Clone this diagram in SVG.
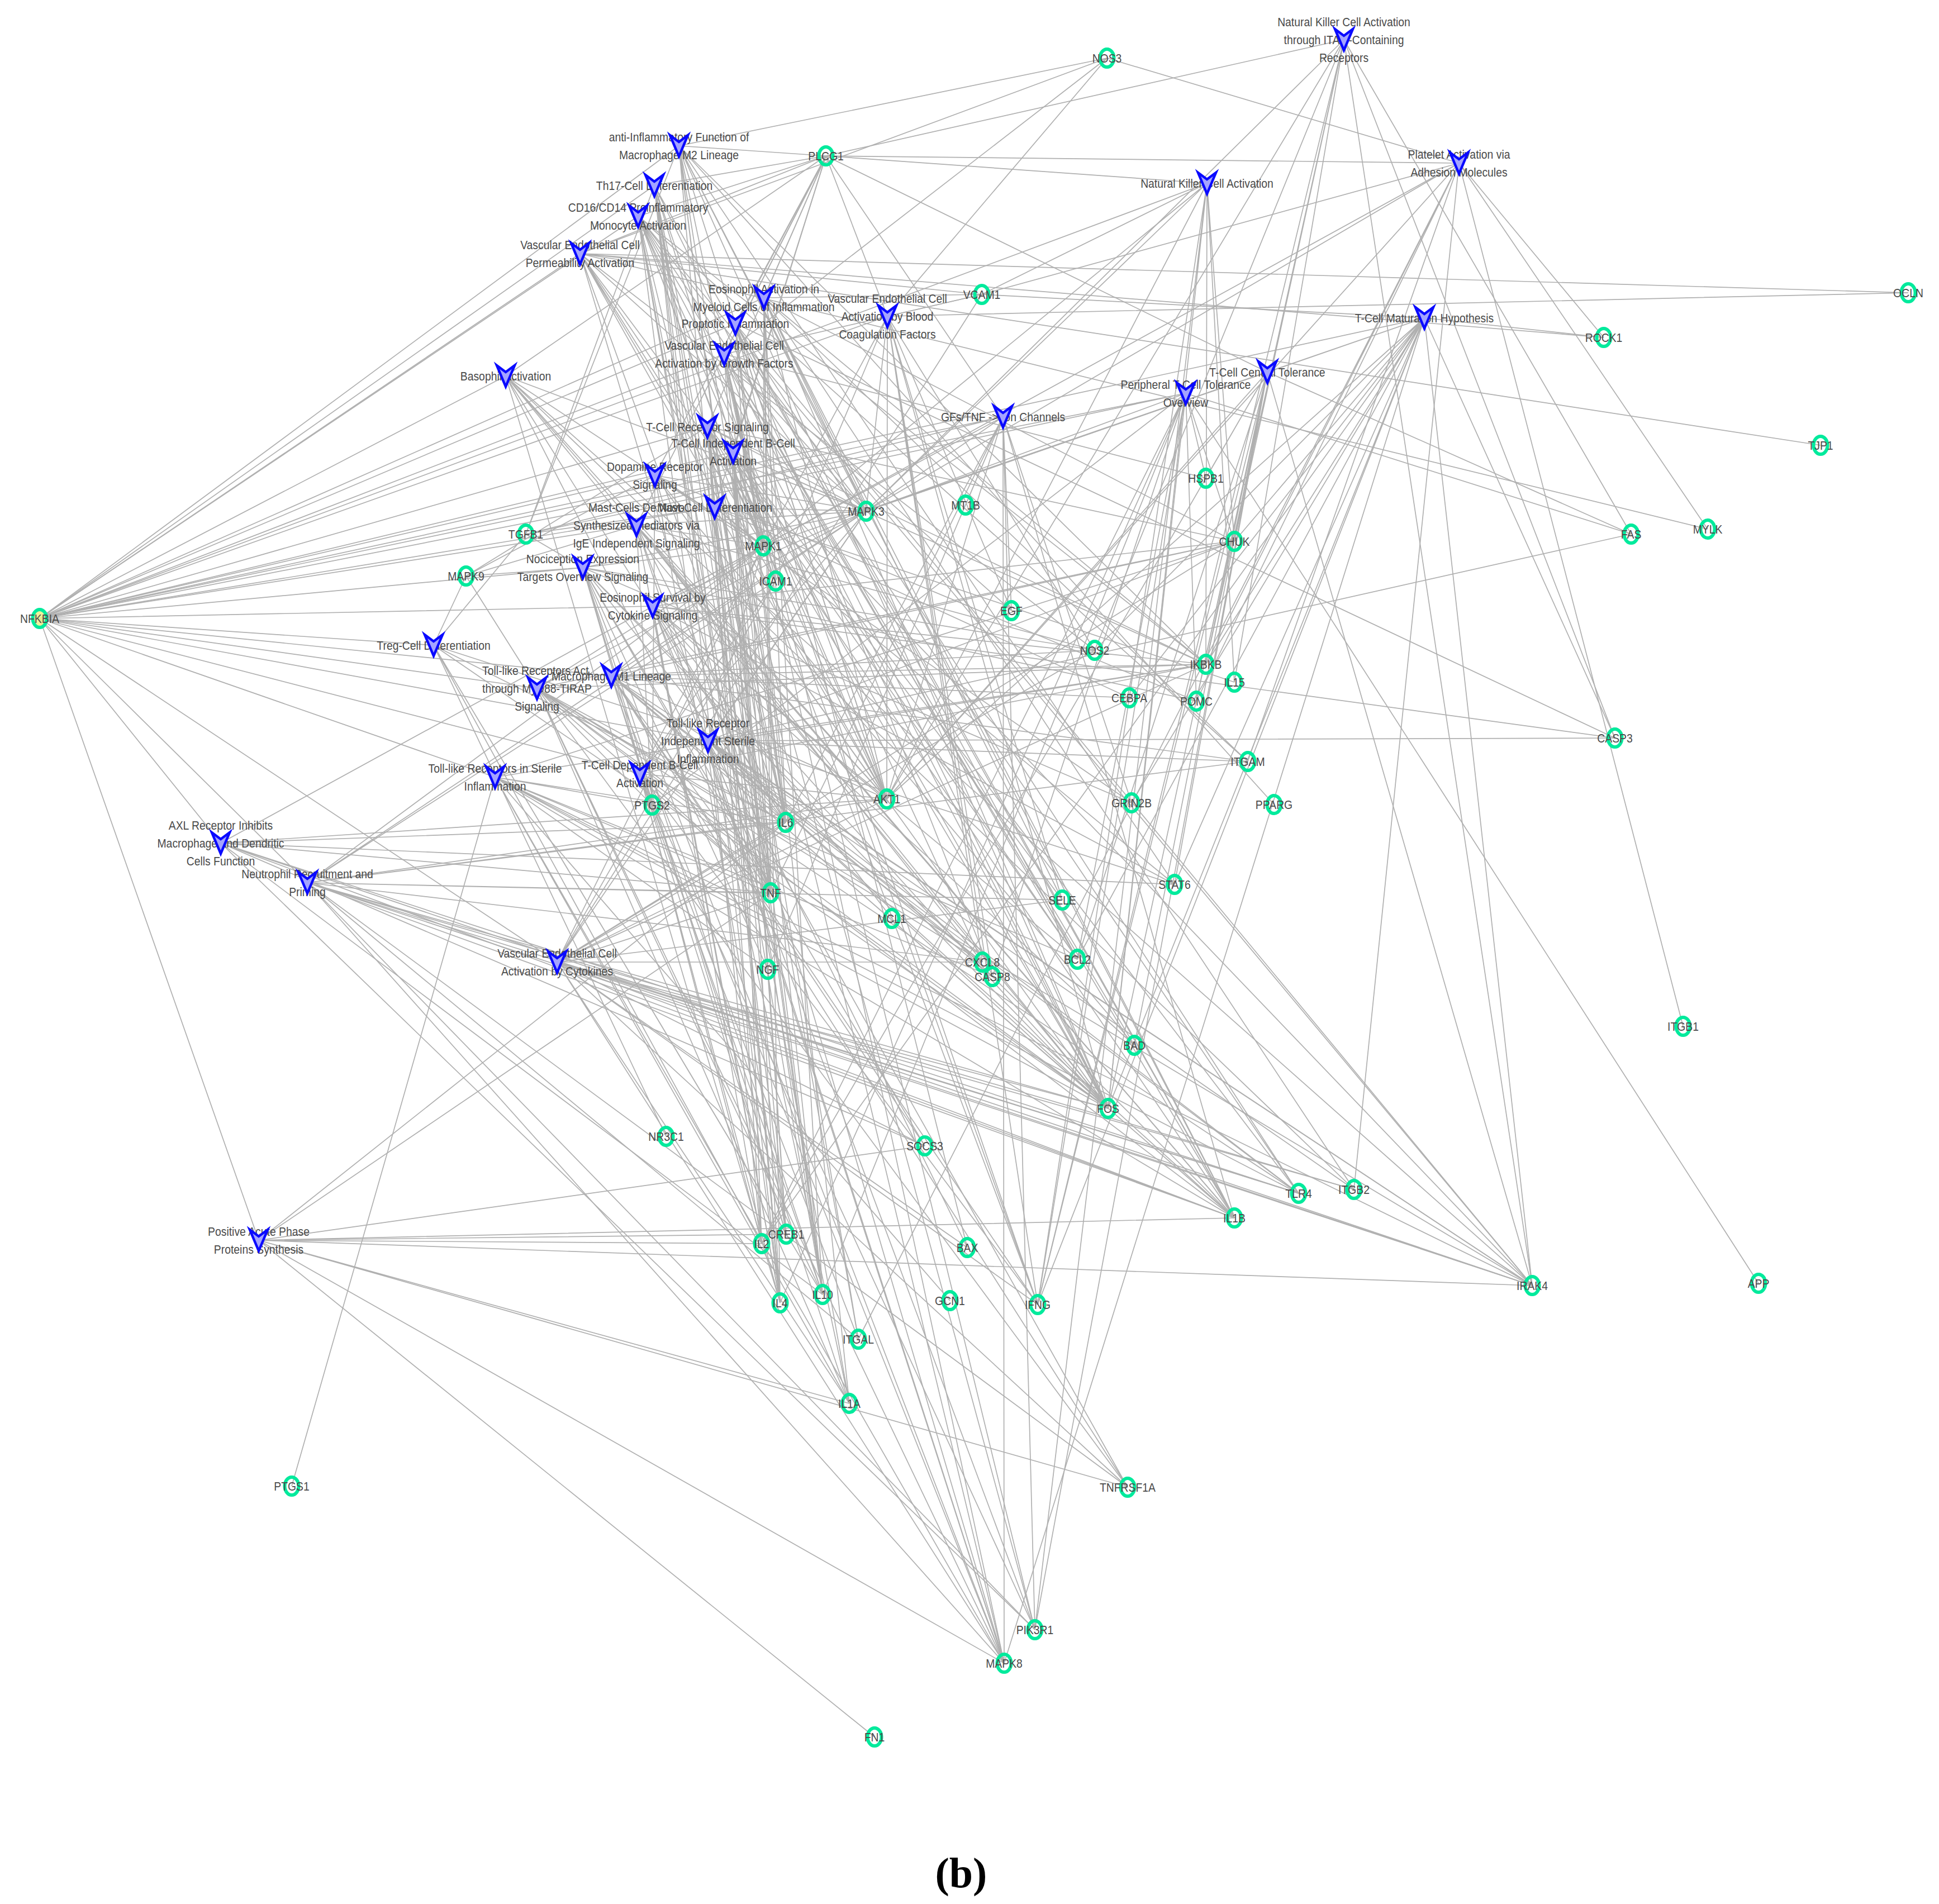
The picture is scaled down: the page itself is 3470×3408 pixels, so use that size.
<svg xmlns="http://www.w3.org/2000/svg" width="3470" height="3408" viewBox="0 0 3470 3408">
<style>
.e{fill:none;stroke:#b0b0b0;stroke-width:1.7}
.ring{fill:none;stroke:#00ea9c;stroke-width:6}
.v{fill:#a4a4ff;stroke:#0a0aff;stroke-width:4.5;stroke-linejoin:miter}
text{font-family:"Liberation Sans",Arial,sans-serif;font-size:22px;fill:#4a4a4a;text-anchor:middle}
.cap{font-family:"Liberation Serif","Times New Roman",serif;font-size:76px;font-weight:bold;fill:#000}
</style>
<rect width="3470" height="3408" fill="#fff"/>
<g id="edges">
<path class="e" d="M2405 71L1478 279M2405 71L2158 1189M2405 71L2209 969M2405 71L2919 956M2405 71L2890 1321M2405 71L1959 1164M2405 71L1550 915M2405 71L1857 2335M2405 71L2742 2301M2405 71L2209 1221M2405 71L1587 1430"/>
<path class="e" d="M1215 261L71 1107M1215 261L1478 279M1215 261L1472 2317M1215 261L1396 2332M1215 261L1406 1472M1215 261L1379 1598M1215 261L1550 915M1215 261L1366 977M1215 261L1587 1430M1215 261L1983 1984M1215 261L2158 1189M1215 261L941 956M1215 261L2102 1583M1215 261L2280 1440M1215 261L2209 2180M1215 261L1981 104"/>
<path class="e" d="M1171 332L71 1107M1171 332L1478 279M1171 332L1406 1472M1171 332L2209 2180M1171 332L941 956M1171 332L1363 2226M1171 332L1396 2332M1171 332L1472 2317M1171 332L1379 1598M1171 332L1857 2335M1171 332L1366 977M1171 332L1407 2209M1171 332L1983 1984M1171 332L1536 2397"/>
<path class="e" d="M1142 387L71 1107M1142 387L1478 279M1142 387L1379 1598M1142 387L1406 1472M1142 387L2209 2180M1142 387L1472 2317M1142 387L1366 977M1142 387L1550 915M1142 387L1587 1430M1142 387L1388 1040M1142 387L2158 1189M1142 387L1983 1984M1142 387L2233 1363M1142 387L2324 2136M1142 387L2742 2301M1142 387L1758 1722M1142 387L1520 2512M1142 387L1396 2332"/>
<path class="e" d="M1038 454L71 1107M1038 454L1981 104M1038 454L3415 524M1038 454L3056 947M1038 454L2870 604M1038 454L3258 797M1038 454L1757 527M1038 454L1388 1040M1038 454L1901 1611M1038 454L1478 279M1038 454L1587 1430M1038 454L1366 977M1038 454L1550 915M1038 454L1379 1598M1038 454L1406 1472M1038 454L2209 2180M1038 454L1959 1164"/>
<path class="e" d="M2160 328L1478 279M2160 328L71 1107M2160 328L1857 2335M2160 328L2158 1189M2160 328L2209 969M2160 328L1550 915M2160 328L1366 977M2160 328L1587 1430M2160 328L1983 1984M2160 328L1852 2917M2160 328L2209 1221M2160 328L2021 1249M2160 328L1757 527"/>
<path class="e" d="M2611 292L1981 104M2611 292L1478 279M2611 292L3012 1837M2611 292L3056 947M2611 292L2870 604M2611 292L2233 1363M2611 292L2423 2129M2611 292L1536 2397M2611 292L1587 1430M2611 292L1366 977M2611 292L1550 915M2611 292L1757 527M2611 292L2158 1189M2611 292L2141 1255"/>
<path class="e" d="M1367 533L71 1107M1367 533L1478 279M1367 533L1757 527M1367 533L1388 1040M1367 533L1396 2332M1367 533L1472 2317M1367 533L1379 1598M1367 533L1406 1472M1367 533L1366 977M1367 533L1550 915M1367 533L1587 1430M1367 533L2233 1363M1367 533L2423 2129M1367 533L1983 1984M1367 533L1901 1611M1367 533L2209 969M1367 533L2158 1189M1367 533L2209 2180"/>
<path class="e" d="M1316 579L71 1107M1316 579L1478 279M1316 579L2209 2180M1316 579L1379 1598M1316 579L1406 1472M1316 579L1776 1748M1316 579L2890 1321M1316 579L2742 2301M1316 579L2324 2136M1316 579L1587 1430M1316 579L1366 977M1316 579L1928 1717M1316 579L1731 2233M1316 579L1520 2512"/>
<path class="e" d="M1588 566L71 1107M1588 566L1757 527M1588 566L1901 1611M1588 566L1388 1040M1588 566L1478 279M1588 566L3415 524M1588 566L1550 915M1588 566L1366 977M1588 566L1587 1430M1588 566L1983 1984M1588 566L1959 1164M1588 566L1810 1093M1588 566L1758 1722M1588 566L1857 2335M1588 566L1776 1748M1588 566L1981 104"/>
<path class="e" d="M1296 634L71 1107M1296 634L1981 104M1296 634L1478 279M1296 634L1757 527M1296 634L1388 1040M1296 634L1587 1430M1296 634L1550 915M1296 634L1366 977M1296 634L1810 1093M1296 634L1852 2917M1296 634L1983 1984M1296 634L1407 2209M1296 634L1406 1472M1296 634L1928 1717M1296 634L2030 1871M1296 634L1797 2977M1296 634L2158 856"/>
<path class="e" d="M905 673L71 1107M905 673L1478 279M905 673L1396 2332M905 673L1406 1472M905 673L1379 1598M905 673L1366 977M905 673L1550 915M905 673L1587 1430M905 673L1983 1984M905 673L2209 2180M905 673L2742 2301M905 673L2423 2129"/>
<path class="e" d="M2549 569L71 1107M2549 569L2742 2301M2549 569L2890 1321M2549 569L1797 2977M2549 569L1363 2226M2549 569L1857 2335M2549 569L1983 1984M2549 569L1587 1430M2549 569L2870 604M2549 569L2209 969M2549 569L2158 1189M2549 569L1959 1164M2549 569L2021 1249M2549 569L2025 1437M2549 569L2102 1583M2549 569L1928 1717M2549 569L1366 977M2549 569L1550 915M2549 569L1757 527"/>
<path class="e" d="M2268 666L1852 2917M2268 666L2919 956M2268 666L2158 1189M2268 666L2209 969M2268 666L1363 2226M2268 666L1857 2335M2268 666L1983 1984M2268 666L1587 1430M2268 666L2742 2301M2268 666L1928 1717M2268 666L2030 1871M2268 666L2102 1583M2268 666L2141 1255M2268 666L1550 915M2268 666L1478 279M2268 666L2158 856"/>
<path class="e" d="M2122 704L2919 956M2122 704L1363 2226M2122 704L1472 2317M2122 704L941 956M2122 704L1857 2335M2122 704L1396 2332M2122 704L3147 2297M2122 704L1983 1984M2122 704L1776 1748M2122 704L1928 1717M2122 704L2158 856M2122 704L2209 969M2122 704L71 1107M2122 704L1550 915M2122 704L2141 1255M2122 704L1167 1441"/>
<path class="e" d="M1795 746L71 1107M1795 746L1379 1598M1795 746L1374 1735M1795 746L1810 1093M1795 746L1550 915M1795 746L1366 977M1795 746L1587 1430M1795 746L1478 279M1795 746L2025 1437M1795 746L1852 2917M1795 746L2209 2180M1795 746L941 956M1795 746L1797 2977M1795 746L1406 1472M1795 746L1728 904"/>
<path class="e" d="M1266 764L71 1107M1266 764L1478 279M1266 764L1363 2226M1266 764L1396 2332M1266 764L1472 2317M1266 764L1857 2335M1266 764L1983 1984M1266 764L1407 2209M1266 764L1366 977M1266 764L1550 915M1266 764L1587 1430M1266 764L2158 1189M1266 764L2209 969M1266 764L1852 2917M1266 764L1797 2977M1266 764L834 1031M1266 764L1928 1717M1266 764L1536 2397"/>
<path class="e" d="M1312 809L71 1107M1312 809L1478 279M1312 809L1363 2226M1312 809L1396 2332M1312 809L1472 2317M1312 809L1857 2335M1312 809L1379 1598M1312 809L1406 1472M1312 809L1983 1984M1312 809L1407 2209M1312 809L1366 977M1312 809L1550 915M1312 809L1587 1430M1312 809L2158 1189M1312 809L2742 2301M1312 809L2324 2136M1312 809L1928 1717"/>
<path class="e" d="M1172 851L71 1107M1172 851L1478 279M1172 851L1407 2209M1172 851L1983 1984M1172 851L1366 977M1172 851L1550 915M1172 851L1587 1430M1172 851L2025 1437M1172 851L2141 1255M1172 851L1797 2977M1172 851L834 1031M1172 851L1167 1441M1172 851L2030 1871"/>
<path class="e" d="M1279 908L71 1107M1279 908L1396 2332M1279 908L1406 1472M1279 908L1472 2317M1279 908L1366 977M1279 908L1550 915M1279 908L1587 1430M1279 908L2021 1249M1279 908L2102 1583M1279 908L1478 279M1279 908L2209 1221M1279 908L941 956"/>
<path class="e" d="M1139 940L71 1107M1139 940L1478 279M1139 940L1167 1441M1139 940L1406 1472M1139 940L1379 1598M1139 940L1396 2332M1139 940L1758 1722M1139 940L1366 977M1139 940L1550 915M1139 940L1797 2977M1139 940L834 1031M1139 940L1587 1430M1139 940L1983 1984M1139 940L1959 1164M1139 940L2209 2180"/>
<path class="e" d="M1043 1016L71 1107M1043 1016L941 956M1043 1016L1406 1472M1043 1016L1379 1598M1043 1016L2209 2180M1043 1016L1374 1735M1043 1016L1983 1984M1043 1016L1407 2209M1043 1016L1366 977M1043 1016L1550 915M1043 1016L1797 2977M1043 1016L834 1031M1043 1016L1167 1441M1043 1016L2141 1255M1043 1016L2025 1437M1043 1016L1472 2317M1043 1016L1959 1164M1043 1016L1655 2051"/>
<path class="e" d="M1168 1085L71 1107M1168 1085L1396 2332M1168 1085L1363 2226M1168 1085L1406 1472M1168 1085L1379 1598M1168 1085L1366 977M1168 1085L1550 915M1168 1085L1587 1430M1168 1085L1928 1717M1168 1085L1731 2233M1168 1085L2030 1871M1168 1085L1596 1644M1168 1085L2102 1583M1168 1085L1983 1984M1168 1085L1852 2917M1168 1085L2890 1321M1168 1085L2158 1189M1168 1085L2209 969"/>
<path class="e" d="M776 1155L71 1107M776 1155L941 956M776 1155L1363 2226M776 1155L1472 2317M776 1155L1983 1984M776 1155L834 1031M776 1155L1406 1472M776 1155L2102 1583M776 1155L1407 2209M776 1155L1192 2034"/>
<path class="e" d="M961 1232L71 1107M961 1232L2742 2301M961 1232L2324 2136M961 1232L2209 2180M961 1232L1379 1598M961 1232L1406 1472M961 1232L1797 2977M961 1232L1366 977M961 1232L1550 915M961 1232L2158 1189M961 1232L2209 969M961 1232L1983 1984M961 1232L1758 1722M961 1232L1167 1441M961 1232L1520 2512M961 1232L1472 2317M961 1232L834 1031M961 1232L2018 2662"/>
<path class="e" d="M1094 1210L71 1107M1094 1210L1379 1598M1094 1210L1406 1472M1094 1210L2209 2180M1094 1210L1857 2335M1094 1210L1959 1164M1094 1210L2324 2136M1094 1210L2742 2301M1094 1210L1167 1441M1094 1210L1758 1722M1094 1210L1366 977M1094 1210L1550 915M1094 1210L1797 2977M1094 1210L1983 1984M1094 1210L2158 1189M1094 1210L2209 969M1094 1210L1520 2512M1094 1210L2233 1363M1094 1210L2021 1249M1094 1210L2018 2662M1094 1210L1587 1430M1094 1210L1655 2051"/>
<path class="e" d="M1267 1326L71 1107M1267 1326L2324 2136M1267 1326L2742 2301M1267 1326L2209 2180M1267 1326L1379 1598M1267 1326L1406 1472M1267 1326L1520 2512M1267 1326L1758 1722M1267 1326L1366 977M1267 1326L1550 915M1267 1326L1797 2977M1267 1326L1983 1984M1267 1326L2158 1189M1267 1326L2209 969M1267 1326L1776 1748M1267 1326L2890 1321M1267 1326L2423 2129M1267 1326L2233 1363M1267 1326L2919 956M1267 1326L2018 2662"/>
<path class="e" d="M1145 1385L71 1107M1145 1385L1363 2226M1145 1385L1396 2332M1145 1385L1472 2317M1145 1385L1857 2335M1145 1385L1366 977M1145 1385L1550 915M1145 1385L1587 1430M1145 1385L1983 1984M1145 1385L1407 2209M1145 1385L2158 1189M1145 1385L1928 1717M1145 1385L1852 2917M1145 1385L1536 2397M1145 1385L1388 1040M1145 1385L1379 1598"/>
<path class="e" d="M886 1391L71 1107M886 1391L2324 2136M886 1391L2742 2301M886 1391L2209 2180M886 1391L1379 1598M886 1391L1406 1472M886 1391L1520 2512M886 1391L1797 2977M886 1391L1983 1984M886 1391L2158 1189M886 1391L2209 969M886 1391L1776 1748M886 1391L1374 1735M886 1391L522 2660M886 1391L1167 1441M886 1391L1700 2328"/>
<path class="e" d="M395 1509L71 1107M395 1509L1655 2051M395 1509L2324 2136M395 1509L2742 2301M395 1509L1406 1472M395 1509L1379 1598M395 1509L1472 2317M395 1509L1587 1430M395 1509L1366 977M395 1509L1852 2917M395 1509L2209 2180M395 1509L2102 1583"/>
<path class="e" d="M550 1580L71 1107M550 1580L2324 2136M550 1580L2423 2129M550 1580L2233 1363M550 1580L1536 2397M550 1580L2209 2180M550 1580L1983 1984M550 1580L2742 2301M550 1580L1379 1598M550 1580L1758 1722M550 1580L1797 2977M550 1580L1366 977M550 1580L1550 915M550 1580L1587 1430M550 1580L1406 1472M550 1580L1901 1611M550 1580L1388 1040M550 1580L2018 2662M550 1580L1852 2917"/>
<path class="e" d="M997 1722L71 1107M997 1722L1757 527M997 1722L1388 1040M997 1722L1901 1611M997 1722L1379 1598M997 1722L2209 2180M997 1722L1406 1472M997 1722L2324 2136M997 1722L2742 2301M997 1722L2423 2129M997 1722L1983 1984M997 1722L2158 1189M997 1722L2209 969M997 1722L1797 2977M997 1722L1366 977M997 1722L1550 915M997 1722L1587 1430M997 1722L1959 1164M997 1722L1520 2512M997 1722L2018 2662M997 1722L1758 1722M997 1722L1857 2335M997 1722L1655 2051M997 1722L1731 2233"/>
<path class="e" d="M463 2220L71 1107M463 2220L1406 1472M463 2220L2209 2180M463 2220L1520 2512M463 2220L1379 1598M463 2220L2742 2301M463 2220L1407 2209M463 2220L1363 2226M463 2220L1797 2977M463 2220L1565 3109M463 2220L1655 2051M463 2220L2018 2662"/>
</g>
<g id="genes">
<g id="g-NFKBIA" transform="translate(71 1107)"><ellipse class="ring" rx="12.5" ry="16" style="fill:#eef08a;fill-opacity:0.85"/><text y="8" transform="scale(0.88 1)">NFKBIA</text></g>
<g id="g-NOS3" transform="translate(1981 104)"><ellipse class="ring" rx="12.5" ry="16"/><text y="8" transform="scale(0.88 1)">NOS3</text></g>
<g id="g-PLCG1" transform="translate(1478 279)"><ellipse class="ring" rx="12.5" ry="16"/><text y="8" transform="scale(0.88 1)">PLCG1</text></g>
<g id="g-VCAM1" transform="translate(1757 527)"><ellipse class="ring" rx="12.5" ry="16"/><text y="8" transform="scale(0.88 1)">VCAM1</text></g>
<g id="g-OCLN" transform="translate(3415 524)"><ellipse class="ring" rx="12.5" ry="16"/><text y="8" transform="scale(0.88 1)">OCLN</text></g>
<g id="g-ROCK1" transform="translate(2870 604)"><ellipse class="ring" rx="12.5" ry="16"/><text y="8" transform="scale(0.88 1)">ROCK1</text></g>
<g id="g-TJP1" transform="translate(3258 797)"><ellipse class="ring" rx="12.5" ry="16"/><text y="8" transform="scale(0.88 1)">TJP1</text></g>
<g id="g-HSPB1" transform="translate(2158 856)"><ellipse class="ring" rx="12.5" ry="16"/><text y="8" transform="scale(0.88 1)">HSPB1</text></g>
<g id="g-MYLK" transform="translate(3056 947)"><ellipse class="ring" rx="12.5" ry="16"/><text y="8" transform="scale(0.88 1)">MYLK</text></g>
<g id="g-FAS" transform="translate(2919 956)"><ellipse class="ring" rx="12.5" ry="16"/><text y="8" transform="scale(0.88 1)">FAS</text></g>
<g id="g-MAPK3" transform="translate(1550 915)"><ellipse class="ring" rx="12.5" ry="16"/><text y="8" transform="scale(0.88 1)">MAPK3</text></g>
<g id="g-MT1B" transform="translate(1728 904)"><ellipse class="ring" rx="12.5" ry="16"/><text y="8" transform="scale(0.88 1)">MT1B</text></g>
<g id="g-CHUK" transform="translate(2209 969)"><ellipse class="ring" rx="12.5" ry="16"/><text y="8" transform="scale(0.88 1)">CHUK</text></g>
<g id="g-TGFB1" transform="translate(941 956)"><ellipse class="ring" rx="12.5" ry="16"/><text y="8" transform="scale(0.88 1)">TGFB1</text></g>
<g id="g-MAPK1" transform="translate(1366 977)"><ellipse class="ring" rx="12.5" ry="16"/><text y="8" transform="scale(0.88 1)">MAPK1</text></g>
<g id="g-MAPK9" transform="translate(834 1031)"><ellipse class="ring" rx="12.5" ry="16"/><text y="8" transform="scale(0.88 1)">MAPK9</text></g>
<g id="g-ICAM1" transform="translate(1388 1040)"><ellipse class="ring" rx="12.5" ry="16"/><text y="8" transform="scale(0.88 1)">ICAM1</text></g>
<g id="g-EGF" transform="translate(1810 1093)"><ellipse class="ring" rx="12.5" ry="16"/><text y="8" transform="scale(0.88 1)">EGF</text></g>
<g id="g-NOS2" transform="translate(1959 1164)"><ellipse class="ring" rx="12.5" ry="16"/><text y="8" transform="scale(0.88 1)">NOS2</text></g>
<g id="g-IKBKB" transform="translate(2158 1189)"><ellipse class="ring" rx="12.5" ry="16"/><text y="8" transform="scale(0.88 1)">IKBKB</text></g>
<g id="g-IL15" transform="translate(2209 1221)"><ellipse class="ring" rx="12.5" ry="16"/><text y="8" transform="scale(0.88 1)">IL15</text></g>
<g id="g-CEBPA" transform="translate(2021 1249)"><ellipse class="ring" rx="12.5" ry="16"/><text y="8" transform="scale(0.88 1)">CEBPA</text></g>
<g id="g-POMC" transform="translate(2141 1255)"><ellipse class="ring" rx="12.5" ry="16"/><text y="8" transform="scale(0.88 1)">POMC</text></g>
<g id="g-CASP3" transform="translate(2890 1321)"><ellipse class="ring" rx="12.5" ry="16"/><text y="8" transform="scale(0.88 1)">CASP3</text></g>
<g id="g-ITGAM" transform="translate(2233 1363)"><ellipse class="ring" rx="12.5" ry="16"/><text y="8" transform="scale(0.88 1)">ITGAM</text></g>
<g id="g-AKT1" transform="translate(1587 1430)"><ellipse class="ring" rx="12.5" ry="16"/><text y="8" transform="scale(0.88 1)">AKT1</text></g>
<g id="g-GRIN2B" transform="translate(2025 1437)"><ellipse class="ring" rx="12.5" ry="16"/><text y="8" transform="scale(0.88 1)">GRIN2B</text></g>
<g id="g-PPARG" transform="translate(2280 1440)"><ellipse class="ring" rx="12.5" ry="16"/><text y="8" transform="scale(0.88 1)">PPARG</text></g>
<g id="g-PTGS2" transform="translate(1167 1441)"><ellipse class="ring" rx="12.5" ry="16"/><text y="8" transform="scale(0.88 1)">PTGS2</text></g>
<g id="g-IL6" transform="translate(1406 1472)"><ellipse class="ring" rx="12.5" ry="16"/><text y="8" transform="scale(0.88 1)">IL6</text></g>
<g id="g-STAT6" transform="translate(2102 1583)"><ellipse class="ring" rx="12.5" ry="16"/><text y="8" transform="scale(0.88 1)">STAT6</text></g>
<g id="g-TNF" transform="translate(1379 1598)"><ellipse class="ring" rx="12.5" ry="16"/><text y="8" transform="scale(0.88 1)">TNF</text></g>
<g id="g-SELE" transform="translate(1901 1611)"><ellipse class="ring" rx="12.5" ry="16"/><text y="8" transform="scale(0.88 1)">SELE</text></g>
<g id="g-MCL1" transform="translate(1596 1644)"><ellipse class="ring" rx="12.5" ry="16"/><text y="8" transform="scale(0.88 1)">MCL1</text></g>
<g id="g-CXCL8" transform="translate(1758 1722)"><ellipse class="ring" rx="12.5" ry="16"/><text y="8" transform="scale(0.88 1)">CXCL8</text></g>
<g id="g-CASP8" transform="translate(1776 1748)"><ellipse class="ring" rx="12.5" ry="16"/><text y="8" transform="scale(0.88 1)">CASP8</text></g>
<g id="g-BCL2" transform="translate(1928 1717)"><ellipse class="ring" rx="12.5" ry="16"/><text y="8" transform="scale(0.88 1)">BCL2</text></g>
<g id="g-NGF" transform="translate(1374 1735)"><ellipse class="ring" rx="12.5" ry="16"/><text y="8" transform="scale(0.88 1)">NGF</text></g>
<g id="g-BAD" transform="translate(2030 1871)"><ellipse class="ring" rx="12.5" ry="16"/><text y="8" transform="scale(0.88 1)">BAD</text></g>
<g id="g-ITGB1" transform="translate(3012 1837)"><ellipse class="ring" rx="12.5" ry="16"/><text y="8" transform="scale(0.88 1)">ITGB1</text></g>
<g id="g-FOS" transform="translate(1983 1984)"><ellipse class="ring" rx="12.5" ry="16"/><text y="8" transform="scale(0.88 1)">FOS</text></g>
<g id="g-NR3C1" transform="translate(1192 2034)"><ellipse class="ring" rx="12.5" ry="16"/><text y="8" transform="scale(0.88 1)">NR3C1</text></g>
<g id="g-SOCS3" transform="translate(1655 2051)"><ellipse class="ring" rx="12.5" ry="16"/><text y="8" transform="scale(0.88 1)">SOCS3</text></g>
<g id="g-TLR4" transform="translate(2324 2136)"><ellipse class="ring" rx="12.5" ry="16"/><text y="8" transform="scale(0.88 1)">TLR4</text></g>
<g id="g-ITGB2" transform="translate(2423 2129)"><ellipse class="ring" rx="12.5" ry="16"/><text y="8" transform="scale(0.88 1)">ITGB2</text></g>
<g id="g-IL1B" transform="translate(2209 2180)"><ellipse class="ring" rx="12.5" ry="16"/><text y="8" transform="scale(0.88 1)">IL1B</text></g>
<g id="g-IL2" transform="translate(1363 2226)"><ellipse class="ring" rx="12.5" ry="16"/><text y="8" transform="scale(0.88 1)">IL2</text></g>
<g id="g-CREB1" transform="translate(1407 2209)"><ellipse class="ring" rx="12.5" ry="16"/><text y="8" transform="scale(0.88 1)">CREB1</text></g>
<g id="g-BAX" transform="translate(1731 2233)"><ellipse class="ring" rx="12.5" ry="16"/><text y="8" transform="scale(0.88 1)">BAX</text></g>
<g id="g-IRAK4" transform="translate(2742 2301)"><ellipse class="ring" rx="12.5" ry="16"/><text y="8" transform="scale(0.88 1)">IRAK4</text></g>
<g id="g-APP" transform="translate(3147 2297)"><ellipse class="ring" rx="12.5" ry="16"/><text y="8" transform="scale(0.88 1)">APP</text></g>
<g id="g-IL4" transform="translate(1396 2332)"><ellipse class="ring" rx="12.5" ry="16"/><text y="8" transform="scale(0.88 1)">IL4</text></g>
<g id="g-IL10" transform="translate(1472 2317)"><ellipse class="ring" rx="12.5" ry="16"/><text y="8" transform="scale(0.88 1)">IL10</text></g>
<g id="g-GCN1" transform="translate(1700 2328)"><ellipse class="ring" rx="12.5" ry="16"/><text y="8" transform="scale(0.88 1)">GCN1</text></g>
<g id="g-IFNG" transform="translate(1857 2335)"><ellipse class="ring" rx="12.5" ry="16"/><text y="8" transform="scale(0.88 1)">IFNG</text></g>
<g id="g-ITGAL" transform="translate(1536 2397)"><ellipse class="ring" rx="12.5" ry="16"/><text y="8" transform="scale(0.88 1)">ITGAL</text></g>
<g id="g-IL1A" transform="translate(1520 2512)"><ellipse class="ring" rx="12.5" ry="16"/><text y="8" transform="scale(0.88 1)">IL1A</text></g>
<g id="g-PTGS1" transform="translate(522 2660)"><ellipse class="ring" rx="12.5" ry="16"/><text y="8" transform="scale(0.88 1)">PTGS1</text></g>
<g id="g-TNFRSF1A" transform="translate(2018 2662)"><ellipse class="ring" rx="12.5" ry="16"/><text y="8" transform="scale(0.88 1)">TNFRSF1A</text></g>
<g id="g-PIK3R1" transform="translate(1852 2917)"><ellipse class="ring" rx="12.5" ry="16"/><text y="8" transform="scale(0.88 1)">PIK3R1</text></g>
<g id="g-MAPK8" transform="translate(1797 2977)"><ellipse class="ring" rx="12.5" ry="16"/><text y="8" transform="scale(0.88 1)">MAPK8</text></g>
<g id="g-FN1" transform="translate(1565 3109)"><ellipse class="ring" rx="12.5" ry="16"/><text y="8" transform="scale(0.88 1)">FN1</text></g>
</g>
<g id="pathways">
<g id="p-nk-itam" transform="translate(2405 71)"><text transform="scale(0.88 1)"><tspan x="0" y="-24">Natural Killer Cell Activation</tspan><tspan x="0" y="8">through ITAM-Containing</tspan><tspan x="0" y="40">Receptors</tspan></text><path class="v" d="M-16 -19L0 -7L16 -19L0 19Z"/></g>
<g id="p-anti-m2" transform="translate(1215 261)"><text transform="scale(0.88 1)"><tspan x="0" y="-8">anti-Inflammatory Function of</tspan><tspan x="0" y="24">Macrophage M2 Lineage</tspan></text><path class="v" d="M-16 -19L0 -7L16 -19L0 19Z"/></g>
<g id="p-th17" transform="translate(1171 332)"><text transform="scale(0.88 1)"><tspan x="0" y="8">Th17-Cell Differentiation</tspan></text><path class="v" d="M-16 -19L0 -7L16 -19L0 19Z"/></g>
<g id="p-cd16" transform="translate(1142 387)"><text transform="scale(0.88 1)"><tspan x="0" y="-8">CD16/CD14 Proinflammatory</tspan><tspan x="0" y="24">Monocyte Activation</tspan></text><path class="v" d="M-16 -19L0 -7L16 -19L0 19Z"/></g>
<g id="p-vperm" transform="translate(1038 454)"><text transform="scale(0.88 1)"><tspan x="0" y="-8">Vascular Endothelial Cell</tspan><tspan x="0" y="24">Permeability Activation</tspan></text><path class="v" d="M-16 -19L0 -7L16 -19L0 19Z"/></g>
<g id="p-nk" transform="translate(2160 328)"><text transform="scale(0.88 1)"><tspan x="0" y="8">Natural Killer Cell Activation</tspan></text><path class="v" d="M-16 -19L0 -7L16 -19L0 19Z"/></g>
<g id="p-platelet" transform="translate(2611 292)"><text transform="scale(0.88 1)"><tspan x="0" y="-8">Platelet Activation via</tspan><tspan x="0" y="24">Adhesion Molecules</tspan></text><path class="v" d="M-16 -19L0 -7L16 -19L0 19Z"/></g>
<g id="p-eos-act" transform="translate(1367 533)"><text transform="scale(0.88 1)"><tspan x="0" y="-8">Eosinophil Activation in</tspan><tspan x="0" y="24">Myeloid Cells of Inflammation</tspan></text><path class="v" d="M-16 -19L0 -7L16 -19L0 19Z"/></g>
<g id="p-prop" transform="translate(1316 579)"><text transform="scale(0.88 1)"><tspan x="0" y="8">Proptotic Inflammation</tspan></text><path class="v" d="M-16 -19L0 -7L16 -19L0 19Z"/></g>
<g id="p-vblood" transform="translate(1588 566)"><text transform="scale(0.88 1)"><tspan x="0" y="-24">Vascular Endothelial Cell</tspan><tspan x="0" y="8">Activation by Blood</tspan><tspan x="0" y="40">Coagulation Factors</tspan></text><path class="v" d="M-16 -19L0 -7L16 -19L0 19Z"/></g>
<g id="p-vgrowth" transform="translate(1296 634)"><text transform="scale(0.88 1)"><tspan x="0" y="-8">Vascular Endothelial Cell</tspan><tspan x="0" y="24">Activation by Growth Factors</tspan></text><path class="v" d="M-16 -19L0 -7L16 -19L0 19Z"/></g>
<g id="p-basophil" transform="translate(905 673)"><text transform="scale(0.88 1)"><tspan x="0" y="8">Basophil Activation</tspan></text><path class="v" d="M-16 -19L0 -7L16 -19L0 19Z"/></g>
<g id="p-tmat" transform="translate(2549 569)"><text transform="scale(0.88 1)"><tspan x="0" y="8">T-Cell Maturation Hypothesis</tspan></text><path class="v" d="M-16 -19L0 -7L16 -19L0 19Z"/></g>
<g id="p-tcent" transform="translate(2268 666)"><text transform="scale(0.88 1)"><tspan x="0" y="8">T-Cell Central Tolerance</tspan></text><path class="v" d="M-16 -19L0 -7L16 -19L0 19Z"/></g>
<g id="p-peri" transform="translate(2122 704)"><text transform="scale(0.88 1)"><tspan x="0" y="-8">Peripheral T-Cell Tolerance</tspan><tspan x="0" y="24">Overview</tspan></text><path class="v" d="M-16 -19L0 -7L16 -19L0 19Z"/></g>
<g id="p-gfs" transform="translate(1795 746)"><text transform="scale(0.88 1)"><tspan x="0" y="8">GFs/TNF -&gt; Ion Channels</tspan></text><path class="v" d="M-16 -19L0 -7L16 -19L0 19Z"/></g>
<g id="p-tcr" transform="translate(1266 764)"><text transform="scale(0.88 1)"><tspan x="0" y="8">T-Cell Receptor Signaling</tspan></text><path class="v" d="M-16 -19L0 -7L16 -19L0 19Z"/></g>
<g id="p-tind" transform="translate(1312 809)"><text transform="scale(0.88 1)"><tspan x="0" y="-8">T-Cell Independent B-Cell</tspan><tspan x="0" y="24">Activation</tspan></text><path class="v" d="M-16 -19L0 -7L16 -19L0 19Z"/></g>
<g id="p-dopa" transform="translate(1172 851)"><text transform="scale(0.88 1)"><tspan x="0" y="-8">Dopamine Receptor</tspan><tspan x="0" y="24">Signaling</tspan></text><path class="v" d="M-16 -19L0 -7L16 -19L0 19Z"/></g>
<g id="p-mastdiff" transform="translate(1279 908)"><text transform="scale(0.88 1)"><tspan x="0" y="8">Mast-Cell Differentiation</tspan></text><path class="v" d="M-16 -19L0 -7L16 -19L0 19Z"/></g>
<g id="p-mastdn" transform="translate(1139 940)"><text transform="scale(0.88 1)"><tspan x="0" y="-24">Mast-Cells De Novo</tspan><tspan x="0" y="8">Synthesized Mediators via</tspan><tspan x="0" y="40">IgE Independent Signaling</tspan></text><path class="v" d="M-16 -19L0 -7L16 -19L0 19Z"/></g>
<g id="p-noci" transform="translate(1043 1016)"><text transform="scale(0.88 1)"><tspan x="0" y="-8">Nociception Expression</tspan><tspan x="0" y="24">Targets Overview Signaling</tspan></text><path class="v" d="M-16 -19L0 -7L16 -19L0 19Z"/></g>
<g id="p-eossurv" transform="translate(1168 1085)"><text transform="scale(0.88 1)"><tspan x="0" y="-8">Eosinophil Survival by</tspan><tspan x="0" y="24">Cytokine Signaling</tspan></text><path class="v" d="M-16 -19L0 -7L16 -19L0 19Z"/></g>
<g id="p-treg" transform="translate(776 1155)"><text transform="scale(0.88 1)"><tspan x="0" y="8">Treg-Cell Differentiation</tspan></text><path class="v" d="M-16 -19L0 -7L16 -19L0 19Z"/></g>
<g id="p-tlrmyd" transform="translate(961 1232)"><text transform="scale(0.88 1)"><tspan x="0" y="-24">Toll-like Receptors Act.</tspan><tspan x="0" y="8">through MyD88-TIRAP</tspan><tspan x="0" y="40">Signaling</tspan></text><path class="v" d="M-16 -19L0 -7L16 -19L0 19Z"/></g>
<g id="p-m1" transform="translate(1094 1210)"><text transform="scale(0.88 1)"><tspan x="0" y="8">Macrophage M1 Lineage</tspan></text><path class="v" d="M-16 -19L0 -7L16 -19L0 19Z"/></g>
<g id="p-tlrind" transform="translate(1267 1326)"><text transform="scale(0.88 1)"><tspan x="0" y="-24">Toll-like Receptor</tspan><tspan x="0" y="8">Independent Sterile</tspan><tspan x="0" y="40">Inflammation</tspan></text><path class="v" d="M-16 -19L0 -7L16 -19L0 19Z"/></g>
<g id="p-tdep" transform="translate(1145 1385)"><text transform="scale(0.88 1)"><tspan x="0" y="-8">T-Cell Dependent B-Cell</tspan><tspan x="0" y="24">Activation</tspan></text><path class="v" d="M-16 -19L0 -7L16 -19L0 19Z"/></g>
<g id="p-tlrster" transform="translate(886 1391)"><text transform="scale(0.88 1)"><tspan x="0" y="-8">Toll-like Receptors in Sterile</tspan><tspan x="0" y="24">Inflammation</tspan></text><path class="v" d="M-16 -19L0 -7L16 -19L0 19Z"/></g>
<g id="p-axl" transform="translate(395 1509)"><text transform="scale(0.88 1)"><tspan x="0" y="-24">AXL Receptor Inhibits</tspan><tspan x="0" y="8">Macrophage and Dendritic</tspan><tspan x="0" y="40">Cells Function</tspan></text><path class="v" d="M-16 -19L0 -7L16 -19L0 19Z"/></g>
<g id="p-neut" transform="translate(550 1580)"><text transform="scale(0.88 1)"><tspan x="0" y="-8">Neutrophil Recruitment and</tspan><tspan x="0" y="24">Priming</tspan></text><path class="v" d="M-16 -19L0 -7L16 -19L0 19Z"/></g>
<g id="p-vcyto" transform="translate(997 1722)"><text transform="scale(0.88 1)"><tspan x="0" y="-8">Vascular Endothelial Cell</tspan><tspan x="0" y="24">Activation by Cytokines</tspan></text><path class="v" d="M-16 -19L0 -7L16 -19L0 19Z"/></g>
<g id="p-acute" transform="translate(463 2220)"><text transform="scale(0.88 1)"><tspan x="0" y="-8">Positive Acute Phase</tspan><tspan x="0" y="24">Proteins Synthesis</tspan></text><path class="v" d="M-16 -19L0 -7L16 -19L0 19Z"/></g>
</g>
<text class="cap" x="1720" y="3378">(b)</text>
</svg>
